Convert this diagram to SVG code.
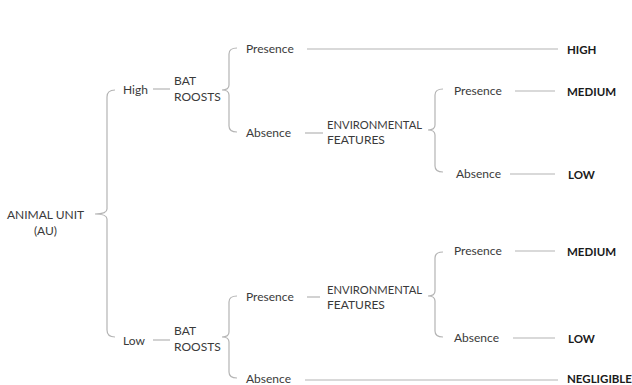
<svg xmlns="http://www.w3.org/2000/svg" width="632" height="385" viewBox="0 0 632 385">
<style>
text{font-family:Lato,"Open Sans","Liberation Sans",sans-serif;font-size:12px;fill:#3a3a3a}
.b{font-weight:bold;fill:#1a1a1a;font-size:11.5px}
.c{text-anchor:middle}
.ln{stroke:#b4b4b4;stroke-width:1.2;fill:none}
</style>
<rect width="632" height="385" fill="#fff"/>
<g id="connectors" class="ln">
<path d="M115,90 Q107,90 107,97 L107,209 Q107,214 95,214 Q107,214 107,219 L107,330 Q107,337 115,337"/>
<path d="M237,48 Q229,48 229,54 L229,85 Q229,90 222,90 Q229,90 229,95 L229,126 Q229,132 237,132"/>
<path d="M237,296 Q229,296 229,302 L229,332 Q229,337 222,337 Q229,337 229,342 L229,372 Q229,378 237,378"/>
<path d="M443,89 Q435,89 435,95 L435,125 Q435,130 428,130 Q435,130 435,135 L435,166 Q435,172 443,172"/>
<path d="M443,252 Q435,252 435,258 L435,291 Q435,296 428,296 Q435,296 435,301 L435,331 Q435,337 443,337"/>
<line x1="153" y1="89" x2="170" y2="89"/>
<line x1="153" y1="340" x2="170" y2="340"/>
<line x1="307" y1="49" x2="558" y2="49"/>
<line x1="305" y1="133" x2="323" y2="133"/>
<line x1="515" y1="91" x2="555" y2="91"/>
<line x1="510" y1="174" x2="555" y2="174"/>
<line x1="307" y1="297" x2="320" y2="297"/>
<line x1="515" y1="251" x2="555" y2="251"/>
<line x1="513" y1="338" x2="555" y2="338"/>
<line x1="305" y1="380" x2="558" y2="380"/>
</g>
<g id="au"><text class="c" x="45.5" y="219">ANIMAL UNIT</text><text class="c" x="45.5" y="235">(AU)</text></g>
<g id="high"><text x="123" y="94">High</text></g>
<g id="low"><text x="123" y="345">Low</text></g>
<g id="br-high"><text x="174" y="85">BAT</text><text x="174" y="101">ROOSTS</text></g>
<g id="br-low"><text x="174" y="335">BAT</text><text x="174" y="351">ROOSTS</text></g>
<g id="p1"><text x="246" y="53">Presence</text></g>
<g id="a1"><text x="246" y="137">Absence</text></g>
<g id="p2"><text x="246" y="301">Presence</text></g>
<g id="a2"><text x="246" y="383">Absence</text></g>
<g id="env1"><text x="327" y="129" textLength="95" lengthAdjust="spacingAndGlyphs">ENVIRONMENTAL</text><text x="327" y="144">FEATURES</text></g>
<g id="env2"><text x="327" y="294" textLength="95" lengthAdjust="spacingAndGlyphs">ENVIRONMENTAL</text><text x="327" y="309">FEATURES</text></g>
<g id="ep1"><text x="454" y="95">Presence</text></g>
<g id="ea1"><text x="456" y="178">Absence</text></g>
<g id="ep2"><text x="454" y="255">Presence</text></g>
<g id="ea2"><text x="454" y="342">Absence</text></g>
<g id="r-high"><text class="b" x="567" y="54">HIGH</text></g>
<g id="r-med1"><text class="b" x="567" y="96">MEDIUM</text></g>
<g id="r-low1"><text class="b" x="568" y="179">LOW</text></g>
<g id="r-med2"><text class="b" x="567" y="256">MEDIUM</text></g>
<g id="r-low2"><text class="b" x="568" y="343">LOW</text></g>
<g id="r-neg"><text class="b" x="567" y="383">NEGLIGIBLE</text></g>
</svg>
